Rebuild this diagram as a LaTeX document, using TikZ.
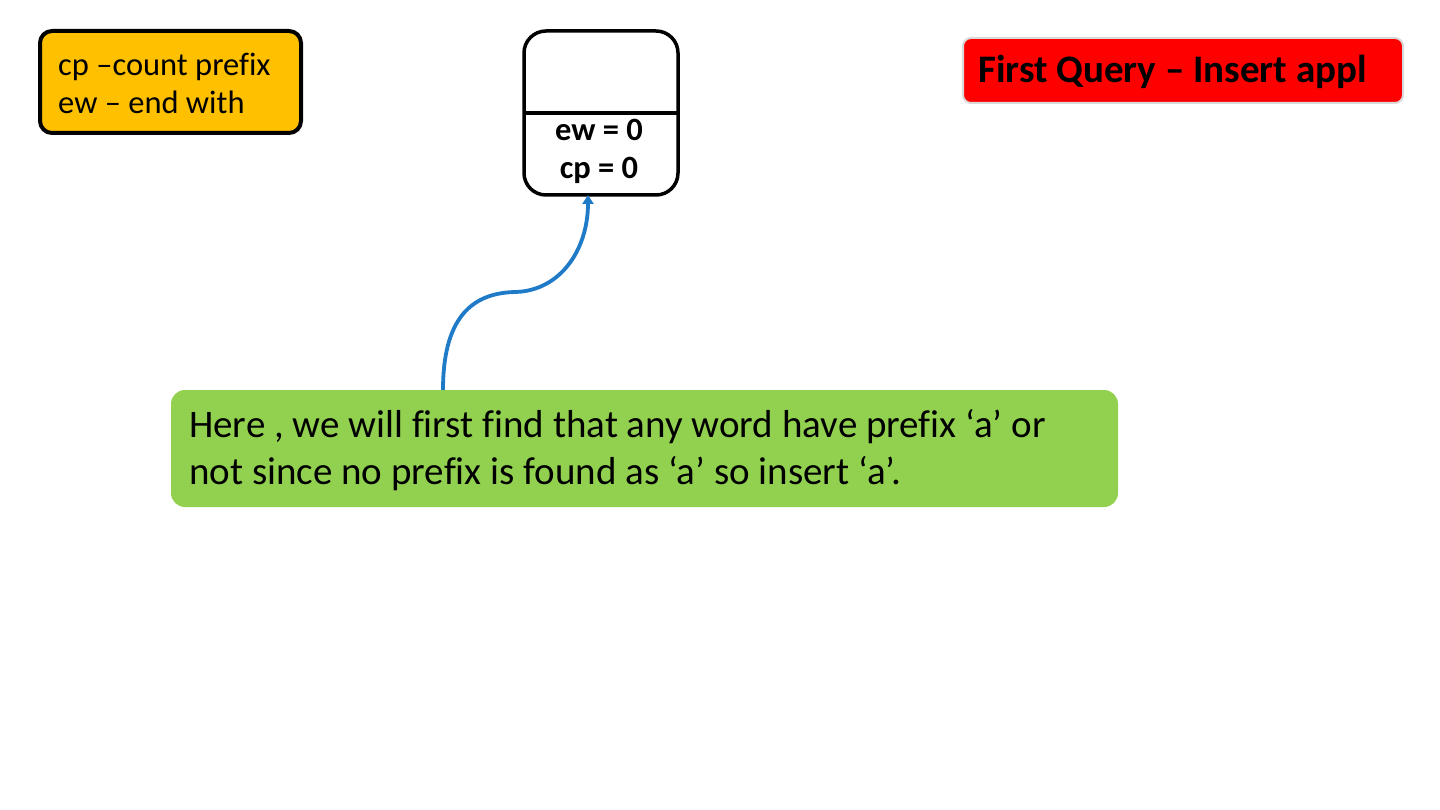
\documentclass[tikz,border=0pt]{standalone}
\usepackage{fontspec}
\setmainfont{Carlito}[Ligatures={NoCommon}]
\usetikzlibrary{arrows.meta}
\definecolor{keyyellow}{HTML}{FFC000}
\definecolor{qred}{HTML}{FF0000}
\definecolor{notegreen}{HTML}{92D050}
\definecolor{arrowblue}{HTML}{1F7BC8}
\definecolor{redborder}{HTML}{D9D9D9}
\begin{document}
\begin{tikzpicture}[x=1pt,y=-1pt,
  keybox/.style={draw=black,line width=4pt,fill=keyyellow,rounded corners=12pt,
    minimum width=261pt,minimum height=102pt,inner sep=0pt,outer sep=0pt},
  trienode/.style={draw=black,line width=3.5pt,rounded corners=22pt,
    minimum width=154pt,minimum height=164pt,inner sep=0pt,outer sep=0pt},
  titlebox/.style={draw=redborder,line width=2pt,fill=qred,rounded corners=8pt,
    minimum width=440pt,minimum height=65pt,inner sep=0pt,outer sep=0pt},
  notebox/.style={fill=notegreen,rounded corners=14pt,
    minimum width=947pt,minimum height=117pt,inner sep=0pt,outer sep=0pt},
  link/.style={draw=arrowblue,line width=3.8pt,-{Triangle[length=9pt,width=11pt]}}
]
\useasboundingbox (0,0) rectangle (1440,810);
\fill[white] (0,0) rectangle (1440,810);

% key box
\node[keybox] (key) at (170.5,82) {};
\node[anchor=west,align=left,font=\fontsize{32.5}{38}\selectfont,inner sep=0pt] (keytext) at (58,83)
  {cp –count prefix\\ew – end with};

% trie node
\node[trienode] (root) at (601,113) {};
\coordinate (divL) at (root.west |- 0,113);
\coordinate (divR) at (root.east |- 0,113);
\draw[line width=3.5pt] (divL) -- (divR);
\node[align=center,font=\fontsize{32.5}{38}\selectfont\bfseries,inner sep=0pt] (vals) at (599,151)
  {ew = 0\\cp = 0};

% title
\node[titlebox] (title) at (1183,70.5) {};
\node[anchor=west,font=\fontsize{39}{44}\selectfont\bfseries,inner sep=0pt] (titletext) at (978,72)
  {First Query – Insert appl};

% note
\node[notebox] (note) at (644.5,448.5) {};
\node[anchor=west,align=left,font=\fontsize{39}{47}\selectfont,inner sep=0pt] (notetext) at (189,450)
  {Here , we will first find that any word have prefix ‘a’ or\\not since no prefix is found as ‘a’ so insert ‘a’.};

% connector
\coordinate (start) at (note.north -| 443,0);
\coordinate (mid) at (515,292);
\coordinate (tip) at (root.south -| 588,0);
\draw[link] (start) .. controls (443,320) and (470,293) .. (mid)
  .. controls (560,291) and (588,250) .. (tip);
\end{tikzpicture}
\end{document}
